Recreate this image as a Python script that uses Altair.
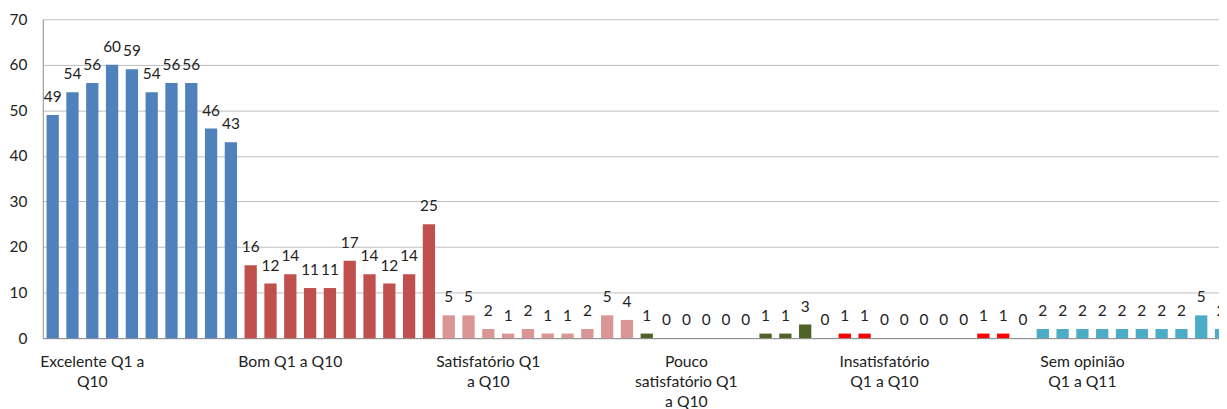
import altair as alt
import pandas as pd

group_lines = [
    ["Excelente Q1 a", "Q10"],
    ["Bom Q1 a Q10"],
    ["Satisfatório Q1", "a Q10"],
    ["Pouco", "satisfatório Q1", "a Q10"],
    ["Insatisfatório", "Q1 a Q10"],
    ["Sem opinião", "Q1 a Q11"],
]
excelente = [49, 54, 56, 60, 59, 54, 56, 56, 46, 43]
bom = [16, 12, 14, 11, 11, 17, 14, 12, 14, 25]
satisfatorio = [5, 5, 2, 1, 2, 1, 1, 2, 5, 4]
pouco = [1, 0, 0, 0, 0, 0, 1, 1, 3, 0]
insatisfatorio = [1, 1, 0, 0, 0, 0, 0, 1, 1, 0]
sem_opiniao = [2, 2, 2, 2, 2, 2, 2, 2, 5, 2]
colors = ["#4F81BD", "#C0504D", "#D99694", "#4F6228", "#FF0000", "#4BACC6"]
y_ticks = [0, 10, 20, 30, 40, 50, 60, 70]

series = [excelente, bom, satisfatorio, pouco, insatisfatorio, sem_opiniao]
rows = []
label_rows = []
idx = 0
for g, vals in enumerate(series):
    label_rows.append({"idx": idx + 2, "text": "\n".join(group_lines[g])})
    for v in vals:
        rows.append({"idx": idx, "value": v, "group": g, "label": str(v)})
        idx += 1
df = pd.DataFrame(rows)
labels_df = pd.DataFrame(label_rows)
n = idx

FONT = "Lato"
TXT = "#222222"
H = 321

xscale = alt.Scale(domain=list(range(n)), range=[0, 1196], paddingInner=0.38, paddingOuter=0.19)
x = alt.X("idx:O", scale=xscale, axis=alt.Axis(labels=False, ticks=False, title=None,
                                                 domainColor="#8C8C8C", grid=False))
y = alt.Y("value:Q", scale=alt.Scale(domain=[0, 70], nice=False),
          axis=alt.Axis(values=y_ticks, title=None, ticks=False, domainColor="#8C8C8C",
                        gridColor="#BEBEBE", labelFont=FONT, labelFontSize=15.5,
                        labelColor=TXT, labelPadding=16))

bars = alt.Chart(df).mark_bar(clip=False).encode(
    x=x, y=y,
    color=alt.Color("group:N", scale=alt.Scale(domain=list(range(6)), range=colors), legend=None),
)
vals = alt.Chart(df).mark_text(baseline="middle", dy=-18, font=FONT, fontSize=15.5, color=TXT).encode(
    x=alt.X("idx:O", scale=xscale), y=alt.Y("value:Q"), text="label:N"
)
cats = alt.Chart(labels_df).mark_text(baseline="top", lineBreak="\n", lineHeight=20, font=FONT,
                                      fontSize=15.8, color=TXT, align="center").encode(
    x=alt.X("idx:O", scale=xscale), y=alt.value(H + 17), text="text:N"
)

chart = alt.layer(bars, vals, cats).properties(
    width=1184, height=H,
    autosize=alt.AutoSizeParams(type="none"),
    padding={"left": 35, "top": 10, "right": 0, "bottom": 70},
).configure_view(stroke=None)

chart.save("out.html", embed_options={"renderer": "svg", "actions": False})
